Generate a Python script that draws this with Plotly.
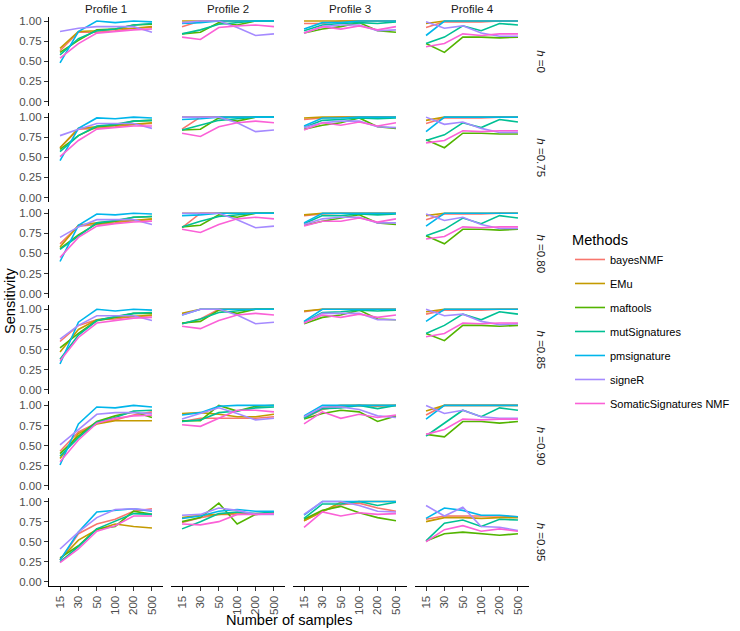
import plotly.graph_objects as go
from plotly.subplots import make_subplots

samples = ["15", "30", "50", "100", "200", "500"]
profiles = ["Profile 1", "Profile 2", "Profile 3", "Profile 4"]
h_labels = ["0", "0.75", "0.80", "0.85", "0.90", "0.95"]
methods = ["bayesNMF", "EMu", "maftools", "mutSignatures", "pmsignature", "signeR", "SomaticSignatures NMF"]
colors = ["#F8766D", "#C49A00", "#53B400", "#00C094", "#00B6EB", "#A58AFF", "#FB61D7"]

# each: rows = h levels, inner = profiles 1..4, values over samples
bayesNMF = [
    [[0.63,0.86,0.86,0.88,0.91,0.92],[0.93,1.0,1.0,1.0,1.0,1.0],[0.97,0.97,1.0,1.0,1.0,1.0],[0.92,0.99,0.99,0.99,1.0,1.0]],
    [[0.62,0.85,0.86,0.88,0.91,0.92],[0.85,1.0,1.0,1.0,1.0,1.0],[0.97,0.99,1.0,1.0,1.0,1.0],[0.92,0.99,0.99,0.99,1.0,1.0]],
    [[0.62,0.84,0.86,0.88,0.91,0.92],[0.82,1.0,1.0,1.0,1.0,1.0],[0.97,0.99,1.0,1.0,1.0,1.0],[0.92,0.99,0.99,0.99,1.0,1.0]],
    [[0.60,0.80,0.87,0.88,0.91,0.92],[0.82,0.88,1.0,1.0,1.0,1.0],[0.97,1.0,1.0,1.0,1.0,1.0],[0.94,0.99,0.99,0.99,1.0,1.0]],
    [[0.43,0.67,0.78,0.82,0.88,0.92],[0.80,0.84,0.84,0.84,0.84,0.86],[0.84,0.95,0.99,1.0,0.99,1.0],[0.88,1.0,1.0,1.0,1.0,1.0]],
    [[0.27,0.60,0.72,0.78,0.88,0.91],[0.74,0.80,0.84,0.84,0.85,0.85],[0.76,0.88,0.96,0.98,0.92,0.88],[0.78,0.82,0.82,0.82,0.82,0.81]],
]
EMu = [
    [[0.66,0.87,0.88,0.90,0.91,0.93],[1.0,1.0,1.0,1.0,1.0,1.0],[1.0,1.0,1.0,1.0,1.0,1.0],[0.97,1.0,1.0,1.0,1.0,1.0]],
    [[0.62,0.86,0.88,0.90,0.91,0.93],[1.0,1.0,1.0,1.0,1.0,1.0],[0.99,1.0,1.0,1.0,1.0,1.0],[0.96,1.0,1.0,1.0,1.0,1.0]],
    [[0.58,0.85,0.88,0.90,0.91,0.93],[1.0,1.0,1.0,1.0,1.0,1.0],[0.98,1.0,1.0,1.0,1.0,1.0],[0.97,1.0,1.0,1.0,1.0,1.0]],
    [[0.47,0.75,0.87,0.90,0.91,0.93],[0.95,1.0,1.0,1.0,1.0,1.0],[0.98,1.0,1.0,1.0,1.0,1.0],[0.97,1.0,1.0,1.0,1.0,1.0]],
    [[0.34,0.65,0.77,0.81,0.81,0.81],[0.90,0.91,0.89,0.86,0.86,0.89],[0.85,0.97,1.0,1.0,1.0,1.0],[0.93,1.0,1.0,1.0,1.0,1.0]],
    [[0.28,0.52,0.65,0.72,0.69,0.67],[0.80,0.83,0.84,0.86,0.84,0.86],[0.76,0.88,0.99,1.0,1.0,1.0],[0.75,0.80,0.80,0.79,0.80,0.80]],
]
maftools = [
    [[0.61,0.76,0.89,0.90,0.95,0.96],[0.84,0.86,0.98,0.95,1.0,1.0],[0.85,0.90,0.93,0.98,0.88,0.86],[0.72,0.61,0.80,0.80,0.79,0.80]],
    [[0.60,0.77,0.88,0.90,0.95,0.96],[0.84,0.85,0.99,0.95,1.0,1.0],[0.85,0.90,0.93,0.99,0.88,0.86],[0.72,0.62,0.80,0.80,0.79,0.79]],
    [[0.56,0.73,0.87,0.90,0.95,0.96],[0.83,0.85,0.98,0.95,1.0,1.0],[0.85,0.90,0.94,0.98,0.88,0.86],[0.72,0.62,0.80,0.80,0.79,0.80]],
    [[0.52,0.70,0.86,0.90,0.95,0.95],[0.83,0.85,0.99,0.95,1.0,1.0],[0.82,0.90,0.93,0.99,0.88,0.87],[0.70,0.61,0.80,0.80,0.79,0.80]],
    [[0.40,0.62,0.80,0.87,0.92,0.85],[0.81,0.81,1.0,0.93,0.99,1.0],[0.83,0.90,0.94,0.92,0.80,0.87],[0.64,0.61,0.80,0.80,0.78,0.80]],
    [[0.30,0.45,0.66,0.69,0.88,0.84],[0.75,0.80,0.98,0.72,0.84,0.86],[0.78,0.89,0.94,0.86,0.80,0.76],[0.51,0.60,0.62,0.60,0.58,0.60]],
]
mutSignatures = [
    [[0.58,0.78,0.88,0.90,0.95,0.97],[0.84,0.89,0.96,0.98,1.0,1.0],[0.88,0.95,0.97,0.98,0.97,0.99],[0.72,0.80,0.94,0.88,0.97,0.95]],
    [[0.57,0.77,0.89,0.91,0.95,0.96],[0.84,0.90,0.96,0.98,1.0,1.0],[0.87,0.96,0.97,0.99,0.98,0.99],[0.71,0.78,0.93,0.87,0.97,0.94]],
    [[0.55,0.72,0.88,0.91,0.95,0.96],[0.83,0.90,0.96,0.98,1.0,1.0],[0.87,0.97,0.97,0.99,0.98,0.99],[0.72,0.80,0.94,0.87,0.97,0.94]],
    [[0.38,0.68,0.86,0.91,0.95,0.96],[0.82,0.88,0.96,0.98,1.0,1.0],[0.84,0.96,0.97,0.99,0.98,0.99],[0.70,0.80,0.94,0.87,0.97,0.94]],
    [[0.37,0.60,0.79,0.85,0.93,0.94],[0.80,0.82,0.91,0.93,0.97,0.98],[0.84,0.96,0.97,1.0,0.96,1.0],[0.62,0.78,0.94,0.86,0.97,0.94]],
    [[0.25,0.44,0.66,0.75,0.85,0.84],[0.66,0.75,0.85,0.87,0.85,0.87],[0.79,0.97,0.97,1.0,0.95,0.99],[0.51,0.73,0.77,0.69,0.78,0.77]],
]
pmsignature = [
    [[0.48,0.87,1.0,0.98,1.0,0.99],[0.97,0.98,1.0,1.0,1.0,1.0],[0.90,0.98,0.98,1.0,1.0,1.0],[0.82,1.0,1.0,1.0,1.0,1.0]],
    [[0.46,0.86,0.99,0.98,1.0,0.99],[0.97,0.98,1.0,1.0,1.0,1.0],[0.89,0.99,0.99,1.0,1.0,1.0],[0.82,1.0,1.0,1.0,1.0,1.0]],
    [[0.40,0.85,0.99,0.98,1.0,0.99],[0.97,0.98,1.0,1.0,1.0,1.0],[0.88,1.0,1.0,1.0,1.0,1.0],[0.84,1.0,1.0,1.0,1.0,1.0]],
    [[0.32,0.84,1.0,0.98,1.0,0.99],[0.93,1.0,1.0,1.0,1.0,1.0],[0.85,1.0,1.0,1.0,1.0,1.0],[0.85,1.0,1.0,1.0,1.0,1.0]],
    [[0.26,0.77,0.98,0.97,1.0,0.98],[0.88,0.91,0.99,1.0,1.0,1.0],[0.87,1.0,1.0,1.0,1.0,1.0],[0.83,1.0,1.0,1.0,1.0,1.0]],
    [[0.27,0.62,0.87,0.89,0.91,0.88],[0.79,0.82,0.88,0.90,0.88,0.88],[0.83,1.0,1.0,1.0,1.0,1.0],[0.79,0.92,0.89,0.83,0.83,0.81]],
]
signeR = [
    [[0.87,0.91,0.93,0.93,0.93,0.86],[0.98,1.0,1.0,0.92,0.82,0.84],[0.85,0.93,0.95,0.95,0.88,0.89],[0.99,0.91,0.94,0.85,0.81,0.81]],
    [[0.77,0.85,0.92,0.92,0.92,0.86],[1.0,1.0,1.0,0.93,0.82,0.84],[0.87,0.93,0.95,0.95,0.88,0.87],[1.0,0.91,0.94,0.86,0.81,0.81]],
    [[0.70,0.83,0.92,0.92,0.92,0.86],[1.0,1.0,1.0,0.92,0.82,0.84],[0.86,0.93,0.95,0.95,0.88,0.88],[0.99,0.91,0.95,0.86,0.81,0.81]],
    [[0.63,0.80,0.92,0.92,0.92,0.86],[0.93,1.0,1.0,0.93,0.82,0.84],[0.83,0.95,0.95,0.95,0.87,0.87],[1.0,0.92,0.94,0.85,0.81,0.82]],
    [[0.51,0.70,0.89,0.91,0.91,0.90],[0.83,0.90,0.97,0.90,0.82,0.84],[0.86,0.98,0.98,0.95,0.87,0.85],[1.0,0.90,0.94,0.86,0.84,0.84]],
    [[0.41,0.62,0.80,0.90,0.91,0.89],[0.83,0.84,0.92,0.89,0.84,0.84],[0.84,1.0,1.0,0.95,0.88,0.87],[0.95,0.82,0.93,0.69,0.68,0.64]],
]
SomaticSignatures_NMF = [
    [[0.54,0.72,0.85,0.87,0.89,0.90],[0.80,0.77,0.92,0.94,0.95,0.93],[0.85,0.93,0.90,0.94,0.89,0.93],[0.68,0.72,0.84,0.82,0.84,0.84]],
    [[0.51,0.71,0.85,0.87,0.89,0.89],[0.80,0.76,0.88,0.93,0.95,0.93],[0.84,0.93,0.90,0.94,0.89,0.93],[0.68,0.71,0.83,0.82,0.83,0.83]],
    [[0.45,0.70,0.84,0.87,0.89,0.90],[0.80,0.76,0.86,0.93,0.95,0.93],[0.84,0.90,0.90,0.94,0.89,0.93],[0.68,0.71,0.83,0.82,0.83,0.83]],
    [[0.36,0.65,0.83,0.86,0.89,0.90],[0.79,0.76,0.86,0.93,0.95,0.93],[0.83,0.93,0.90,0.94,0.90,0.93],[0.66,0.70,0.83,0.82,0.83,0.83]],
    [[0.30,0.57,0.78,0.84,0.87,0.88],[0.76,0.74,0.84,0.94,0.94,0.92],[0.77,0.92,0.84,0.89,0.85,0.88],[0.64,0.70,0.83,0.82,0.83,0.83]],
    [[0.24,0.41,0.63,0.70,0.82,0.82],[0.72,0.71,0.75,0.84,0.84,0.85],[0.68,0.87,0.82,0.86,0.84,0.85],[0.50,0.65,0.70,0.63,0.66,0.63]],
]

method_data = [bayesNMF, EMu, maftools, mutSignatures, pmsignature, signeR, SomaticSignatures_NMF]

W, H = 740, 631
# plot area in pixels
L, R, T, B = 49, 529, 17, 586
pw, ph = R - L, B - T
nrows, ncols = 6, 4
hgap, vgap = 8, 7.6

fig = make_subplots(rows=nrows, cols=ncols, horizontal_spacing=hgap / pw, vertical_spacing=vgap / ph)

FONT = "Liberation Sans, Arial, sans-serif"
TS = 11.5

for mi, (name, data) in enumerate(zip(methods, method_data)):
    for r in range(nrows):
        for c in range(ncols):
            fig.add_trace(
                go.Scatter(
                    x=samples, y=data[r][c], mode="lines", name=name,
                    line=dict(color=colors[mi], width=1.6),
                    legendgroup=name, showlegend=(r == 0 and c == 0),
                    hoverinfo="skip",
                ),
                row=r + 1, col=c + 1,
            )

for r in range(1, nrows + 1):
    for c in range(1, ncols + 1):
        fig.update_xaxes(
            row=r, col=c, type="category", categoryorder="array", categoryarray=samples,
            range=[-0.6, 5.6], showgrid=False, zeroline=False, automargin=False,
            showline=(r == nrows), linecolor="black", linewidth=1.3,
            ticks="outside" if r == nrows else "", ticklen=4, tickcolor="#333333", tickwidth=1.1,
            showticklabels=(r == nrows), tickangle=-90,
            tickfont=dict(family=FONT, size=TS, color="#4d4d4d"),
        )
        fig.update_yaxes(
            row=r, col=c, range=[-0.05, 1.05], showgrid=False, zeroline=False, automargin=False,
            showline=(c == 1), linecolor="black", linewidth=1.3,
            ticks="outside" if c == 1 else "", ticklen=4, tickcolor="#333333", tickwidth=1.1,
            tickvals=[0, 0.25, 0.5, 0.75, 1.0], ticktext=["0.00", "0.25", "0.50", "0.75", "1.00"],
            showticklabels=(c == 1),
            tickfont=dict(family=FONT, size=TS, color="#4d4d4d"),
        )

def px_x(p):  # pixel -> paper
    return (p - L) / pw

def px_y(p):
    return (B - p) / ph

annotations = []
col_w = (pw - 3 * hgap) / 4
for c, prof in enumerate(profiles):
    cx = L + c * (col_w + hgap) + col_w / 2
    annotations.append(dict(text=prof, x=px_x(cx), y=px_y(9), xref="paper", yref="paper",
                            showarrow=False, font=dict(family=FONT, size=TS, color="#1a1a1a"),
                            xanchor="center", yanchor="middle"))
row_h = (ph - 5 * vgap) / 6
for r, hl in enumerate(h_labels):
    cy = T + r * (row_h + vgap) + row_h / 2
    annotations.append(dict(text="<i>h</i> =" + hl, x=px_x(541), y=px_y(cy), xref="paper", yref="paper",
                            showarrow=False, textangle=90, font=dict(family=FONT, size=TS, color="#1a1a1a"),
                            xanchor="center", yanchor="middle"))
annotations.append(dict(text="Sensitivity", x=px_x(10), y=px_y(301), xref="paper", yref="paper",
                        showarrow=False, textangle=-90, font=dict(family=FONT, size=14.6, color="black"),
                        xanchor="center", yanchor="middle"))
annotations.append(dict(text="Number of samples", x=px_x(289), y=px_y(620), xref="paper", yref="paper",
                        showarrow=False, font=dict(family=FONT, size=14.6, color="black"),
                        xanchor="center", yanchor="middle"))

fig.update_layout(
    width=W, height=H,
    margin=dict(l=L, r=W - R, t=T, b=H - B, autoexpand=False),
    paper_bgcolor="white", plot_bgcolor="white",
    font=dict(family=FONT),
    annotations=annotations,
    legend=dict(
        x=px_x(570), y=px_y(226), xanchor="left", yanchor="top",
        title=dict(text="Methods", font=dict(family=FONT, size=14.6, color="black")),
        font=dict(family=FONT, size=11, color="black"),
        tracegroupgap=5, itemwidth=30, bgcolor="rgba(0,0,0,0)",
    ),
)

fig.write_html("out.html", config={"displayModeBar": False},
               post_script="document.body.style.margin='0';document.body.style.overflow='hidden';")
